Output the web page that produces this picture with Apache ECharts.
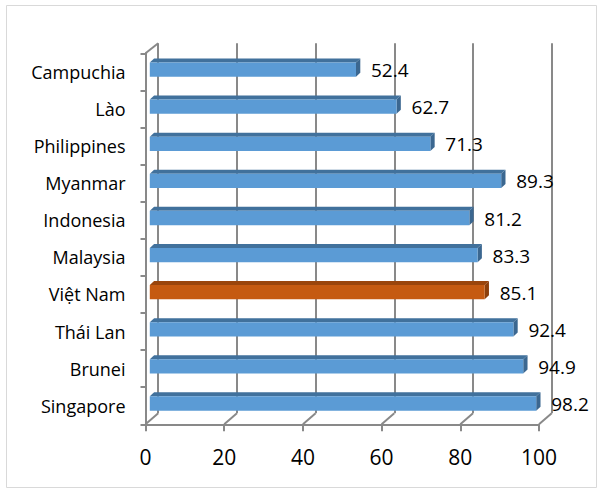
<!DOCTYPE html>
<html>
<head>
<meta charset="utf-8">
<script src="https://cdn.jsdelivr.net/npm/echarts@6/dist/echarts.min.js"></script>
<style>
html,body{margin:0;padding:0;background:#fff;}
#chart{width:603px;height:493px;}
</style>
</head>
<body>
<div id="chart"></div>
<script>
// ---- data (top to bottom) ----
const categories = ['Campuchia', 'Lào', 'Philippines', 'Myanmar', 'Indonesia', 'Malaysia', 'Việt Nam', 'Thái Lan', 'Brunei', 'Singapore'];
const values = [52.4, 62.7, 71.3, 89.3, 81.2, 83.3, 85.1, 92.4, 94.9, 98.2];
const highlightCategory = 'Việt Nam';
const xTicks = [0, 20, 40, 60, 80, 100];

// ---- styles ----
const FONT = 'Open Sans';
const AXIS_GRAY = '#898989';
const BLUE = { front: '#5b9bd5', top: '#41719c', side: '#3b6790' };
const ORANGE = { front: '#c55a11', top: '#9a450c', side: '#8c3f0b' };
const DEPTH_X = 12.7, DEPTH_Y_TOP = 10, DEPTH_Y_BOTTOM = 11; // wall depth offsets
const BAR_DX = 4.3, BAR_DY = 4, BAR_H = 14.3;

const barData = values.map((v, i) => [v, i]);
const tickData = xTicks.map(t => [t, 0]);

const chart = echarts.init(document.getElementById('chart'), null, { renderer: 'svg' });

const option = {
  backgroundColor: '#fff',
  animation: false,
  graphic: [{
    type: 'rect', z: -10,
    shape: { x: 6.5, y: 5.5, width: 590, height: 482 },
    style: { fill: 'none', stroke: '#d9d9d9', lineWidth: 1 }
  }],
  grid: [
    { left: 145.5, top: 53.3, width: 393.5, height: 371 },          // front plane
    { left: 145.5 + DEPTH_X, top: 43.3, width: 393.5, height: 370 } // back wall
  ],
  xAxis: [
    {
      type: 'value', gridIndex: 0, min: 0, max: 100, interval: 20,
      axisLine: { show: true, lineStyle: { color: AXIS_GRAY, width: 2 } },
      axisTick: { show: true, length: 7, lineStyle: { color: AXIS_GRAY, width: 2 } },
      axisLabel: { fontFamily: FONT, fontSize: 21, color: '#000', margin: 22 },
      splitLine: { show: false }
    },
    {
      type: 'value', gridIndex: 1, min: 0, max: 100, interval: 20,
      axisLine: { show: false }, axisTick: { show: false }, axisLabel: { show: false },
      splitLine: { show: true, showMinLine: true, showMaxLine: true, lineStyle: { color: AXIS_GRAY, width: 2 } }
    }
  ],
  yAxis: [
    {
      type: 'category', gridIndex: 0, data: categories, inverse: true,
      axisLine: { show: true, lineStyle: { color: AXIS_GRAY, width: 2 } },
      axisTick: { show: true, length: 5, lineStyle: { color: AXIS_GRAY, width: 2 } },
      axisLabel: { fontFamily: FONT, fontSize: 18, color: '#000', margin: 20 },
      splitLine: { show: false }
    },
    {
      type: 'category', gridIndex: 1, data: categories, inverse: true, show: false
    }
  ],
  series: [
    {
      // connectors between the front axes and the back wall
      type: 'custom', xAxisIndex: 0, yAxisIndex: 0, z: 1, silent: true,
      data: tickData,
      encode: { x: 0, y: 1 },
      renderItem: function (params, api) {
        const x = api.coord([api.value(0), 0])[0];
        const cs = params.coordSys;
        const bottom = cs.y + cs.height;
        const children = [{
          type: 'line',
          shape: { x1: x, y1: bottom, x2: x + DEPTH_X, y2: bottom - DEPTH_Y_BOTTOM },
          style: { stroke: AXIS_GRAY, lineWidth: 2 }
        }];
        if (params.dataIndex === 0) {
          children.push({
            type: 'line',
            shape: { x1: x, y1: cs.y, x2: x + DEPTH_X, y2: cs.y - DEPTH_Y_TOP },
            style: { stroke: AXIS_GRAY, lineWidth: 2 }
          });
        }
        return { type: 'group', children: children };
      }
    },
    {
      // 3D-style bars
      type: 'custom', xAxisIndex: 0, yAxisIndex: 0, z: 5,
      data: barData,
      encode: { x: 0, y: 1 },
      renderItem: function (params, api) {
        const v = api.value(0), i = api.value(1);
        const p0 = api.coord([0, i]);
        const p1 = api.coord([v, i]);
        const band = api.size([0, 1])[1];
        const cy = p0[1] - band * 0.06;
        const c = categories[i] === highlightCategory ? ORANGE : BLUE;
        const xl = p0[0] + BAR_DX, xr = p1[0] + BAR_DX;
        const yt = cy - BAR_H / 2, yb = cy + BAR_H / 2;
        return {
          type: 'group',
          children: [
            { type: 'polygon', shape: { points: [[xl, yt], [xl + BAR_DX, yt - BAR_DY], [xr + BAR_DX, yt - BAR_DY], [xr, yt]] },
              style: { fill: c.top } },
            { type: 'polygon', shape: { points: [[xr, yt], [xr + BAR_DX, yt - BAR_DY], [xr + BAR_DX, yb - BAR_DY], [xr, yb]] },
              style: { fill: c.side } },
            { type: 'rect', shape: { x: xl, y: yt, width: xr - xl, height: BAR_H },
              style: { fill: c.front } },
            { type: 'text', x: xr + 15, y: cy + 0.5,
              style: { text: v.toFixed(1), fontFamily: FONT, fontSize: 19, fill: '#000', verticalAlign: 'middle', align: 'left' } }
          ]
        };
      }
    }
  ]
};
chart.setOption(option);
</script>
</body>
</html>
